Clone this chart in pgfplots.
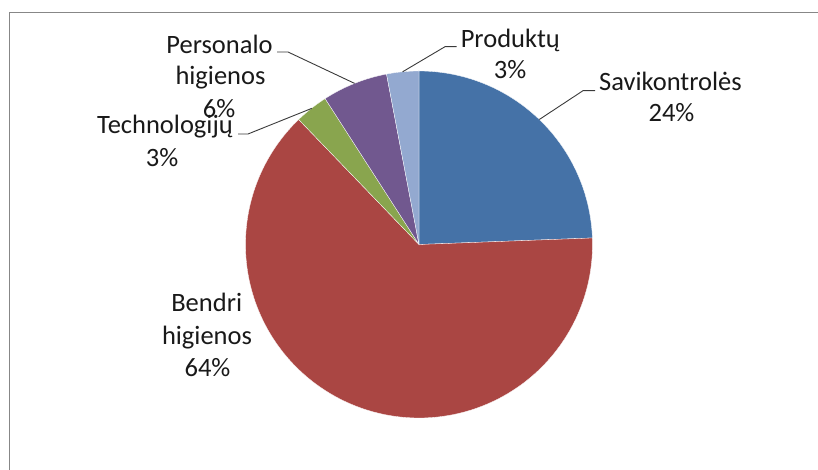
\documentclass[border=0pt]{standalone}
\usepackage{pgfplots}
\usepackage{pgfplotstable}
\pgfplotsset{compat=1.18}
\usepackage{fontspec}
\setmainfont{Carlito}
\definecolor{slice0}{HTML}{4572A7}
\definecolor{slice1}{HTML}{AA4643}
\definecolor{slice2}{HTML}{89A54E}
\definecolor{slice3}{HTML}{71588F}
\definecolor{slice4}{HTML}{93A9D0}
\definecolor{framegray}{HTML}{878787}
\definecolor{leader}{HTML}{3A3A3A}
\pgfplotstableread{
label value
Savikontroles 24.4
Bendri 63.4
Technologiju 3.1
Personalo 6.1
Produktu 3.0
}\piedata
\pgfplotstablegetelem{0}{value}\of\piedata\pgfmathsetmacro\aA{90-3.6*\pgfplotsretval}
\pgfplotstablegetelem{1}{value}\of\piedata\pgfmathsetmacro\aB{\aA-3.6*\pgfplotsretval}
\pgfplotstablegetelem{2}{value}\of\piedata\pgfmathsetmacro\aC{\aB-3.6*\pgfplotsretval}
\pgfplotstablegetelem{3}{value}\of\piedata\pgfmathsetmacro\aD{\aC-3.6*\pgfplotsretval}
\pgfplotstablegetelem{4}{value}\of\piedata\pgfmathsetmacro\aE{\aD-3.6*\pgfplotsretval}
\begin{document}%
\begin{tikzpicture}
\begin{axis}[
  at={(0pt,0pt)}, anchor=south west,
  scale only axis, width=818pt, height=470pt,
  xmin=0, xmax=818, ymin=0, ymax=470,
  enlargelimits=false,
  hide axis, clip=false,
]
% frame
\draw[framegray, line width=1.6pt] (axis cs:9.5,0) -- (axis cs:9.5,457.3) -- (axis cs:818,457.3);
% slices
\addplot[fill=slice0, draw=white, line width=0.3pt, domain=\aA:90, samples=60] ({419+173.5*cos(x)},{225.5+173.5*sin(x)}) -- (axis cs:419,225.5) -- cycle;
\addplot[fill=slice1, draw=white, line width=0.3pt, domain=\aB:\aA, samples=150] ({419+173.5*cos(x)},{225.5+173.5*sin(x)}) -- (axis cs:419,225.5) -- cycle;
\addplot[fill=slice2, draw=white, line width=0.3pt, domain=\aC:\aB, samples=20] ({419+173.5*cos(x)},{225.5+173.5*sin(x)}) -- (axis cs:419,225.5) -- cycle;
\addplot[fill=slice3, draw=white, line width=0.3pt, domain=\aD:\aC, samples=25] ({419+173.5*cos(x)},{225.5+173.5*sin(x)}) -- (axis cs:419,225.5) -- cycle;
\addplot[fill=slice4, draw=white, line width=0.3pt, domain=\aE:\aD, samples=20] ({419+173.5*cos(x)},{225.5+173.5*sin(x)}) -- (axis cs:419,225.5) -- cycle;
% leader lines
\draw[leader, line width=0.9pt] (axis cs:595,379.3) -- (axis cs:583,379.3) -- (axis cs:539.3,350.5);
\draw[leader, line width=0.9pt] (axis cs:277,418) -- (axis cs:288,418) -- (axis cs:354.6,386.6);
\draw[leader, line width=0.9pt] (axis cs:238,336) -- (axis cs:248,336) -- (axis cs:311.7,361.6);
\draw[leader, line width=0.9pt] (axis cs:456.7,423.3) -- (axis cs:445,423.3) -- (axis cs:402.6,398.2);
% labels
\tikzset{lab/.style={anchor=base, inner sep=0pt, font=\fontsize{26.5}{32}\selectfont, text=black!90}}
\node[lab] at (axis cs:670.5,379.3) {Savikontrolės};
\node[lab] at (axis cs:671.5,348.3) {24\%};
\node[lab] at (axis cs:510.3,422.7) {Produktų};
\node[lab] at (axis cs:510,391) {3\%};
\node[lab] at (axis cs:219.5,416.7) {Personalo};
\node[lab] at (axis cs:220.5,385) {higienos};
\node[lab] at (axis cs:219,352) {6\%};
\node[lab] at (axis cs:165,336.7) {Technologijų};
\node[lab] at (axis cs:162,303.3) {3\%};
\node[lab] at (axis cs:206.7,158.3) {Bendri};
\node[lab] at (axis cs:207,125) {higienos};
\node[lab] at (axis cs:207.5,93.3) {64\%};
\end{axis}
\pgfresetboundingbox
\useasboundingbox (0pt,0pt) rectangle (818pt,470pt);
\end{tikzpicture}%
\end{document}
